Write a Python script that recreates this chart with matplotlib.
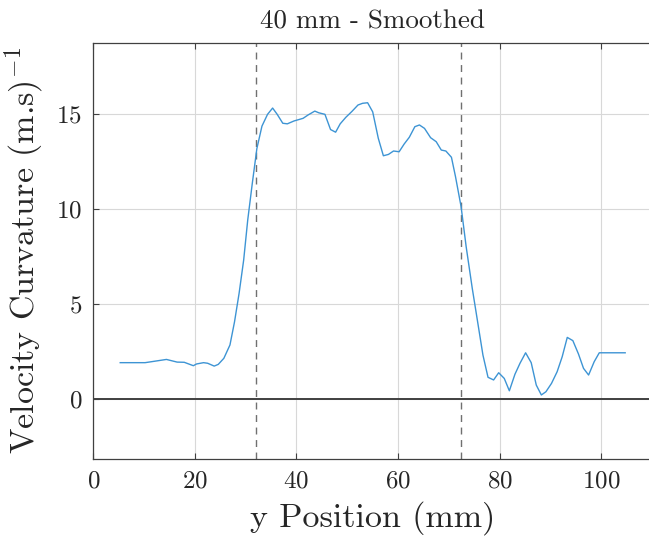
import matplotlib
matplotlib.use("Agg")
import matplotlib.pyplot as plt

plt.rcParams['font.family'] = ['cmr10', 'DejaVu Serif']
plt.rcParams['mathtext.fontset'] = 'cm'
plt.rcParams['axes.formatter.use_mathtext'] = True

y_pos = [5.3, 10.2, 14.4, 16.5, 17.9, 19.7, 20.3, 21.7, 22.5, 23.8, 24.6, 25.7, 26.9,
         27.8, 28.7, 29.6, 30.4, 31.3, 32.2, 33.2, 34.3, 35.3, 36.2, 37.3, 38.2, 39.5,
         41.3, 42.3, 43.6, 44.4, 45.6, 46.7, 47.7, 48.6, 49.7, 50.9, 52.1, 53.0, 54.0,
         55.0, 56.1, 57.1, 58.1, 59.1, 60.2, 61.2, 62.2, 63.3, 64.2, 65.2, 66.4, 67.5,
         68.5, 69.4, 70.5, 71.3, 72.4, 73.4, 74.6, 75.6, 76.7, 77.7, 78.8, 79.8, 80.9,
         81.9, 83.0, 84.0, 85.1, 86.2, 87.2, 88.2, 89.1, 90.2, 91.3, 92.3, 93.3, 94.4,
         95.5, 96.5, 97.5, 98.6, 99.6, 104.7]
curvature = [1.93, 1.93, 2.10, 1.96, 1.95, 1.77, 1.86, 1.93, 1.90, 1.75, 1.84, 2.16, 2.86,
             4.08, 5.58, 7.33, 9.44, 11.37, 13.20, 14.38, 15.00, 15.33, 15.00, 14.53, 14.50,
             14.65, 14.79, 14.97, 15.17, 15.08, 15.00, 14.20, 14.06, 14.50, 14.84, 15.15,
             15.49, 15.58, 15.61, 15.13, 13.74, 12.82, 12.89, 13.07, 13.03, 13.44, 13.79,
             14.35, 14.44, 14.26, 13.77, 13.56, 13.12, 13.07, 12.74, 11.72, 10.14, 8.03,
             5.84, 4.17, 2.33, 1.16, 1.02, 1.40, 1.10, 0.45, 1.32, 1.90, 2.45, 1.93, 0.75,
             0.23, 0.40, 0.84, 1.45, 2.24, 3.26, 3.09, 2.39, 1.63, 1.28, 1.98, 2.45, 2.45]
boundaries = [32.0, 72.4]
x_ticks = [0, 20, 40, 60, 80, 100]
y_ticks = [0, 5, 10, 15]

fig = plt.figure(figsize=(6.49, 5.44), dpi=100)
ax = fig.add_axes([93.3 / 649, 85 / 544, 558.8 / 649, 416.3 / 544])

ax.grid(True, color='#d8d8d8', linewidth=0.8)
ax.set_axisbelow(True)
ax.axhline(0, color='#404040', linewidth=1.4, zorder=2)
for b in boundaries:
    ax.axvline(b, color='#707070', linestyle=(0, (5, 4)), linewidth=1.0, zorder=2)
ax.plot(y_pos, curvature, color='#3d94d4', linewidth=1.0, zorder=3)

ax.set_xlim(0, 110)
ax.set_ylim(-3.14, 18.77)
ax.set_xticks(x_ticks)
ax.set_yticks(y_ticks)
ax.tick_params(direction='in', length=4, width=0.8, color='#404040',
               labelsize=18, labelcolor='#262626', pad=8)
ax.tick_params(axis='x', top=True)
for s in ax.spines.values():
    s.set_color('#404040')
    s.set_linewidth(0.9)

ax.set_title('40 mm - Smoothed', fontsize=19.5, color='#262626', pad=10)
ax.set_xlabel('y Position (mm)', fontsize=24.5, color='#262626', labelpad=6)
ax.set_ylabel(r'Velocity Curvature (m.s)$^{-1}$', fontsize=24.5, color='#262626', labelpad=8)

fig.savefig('out.png', dpi=100)
